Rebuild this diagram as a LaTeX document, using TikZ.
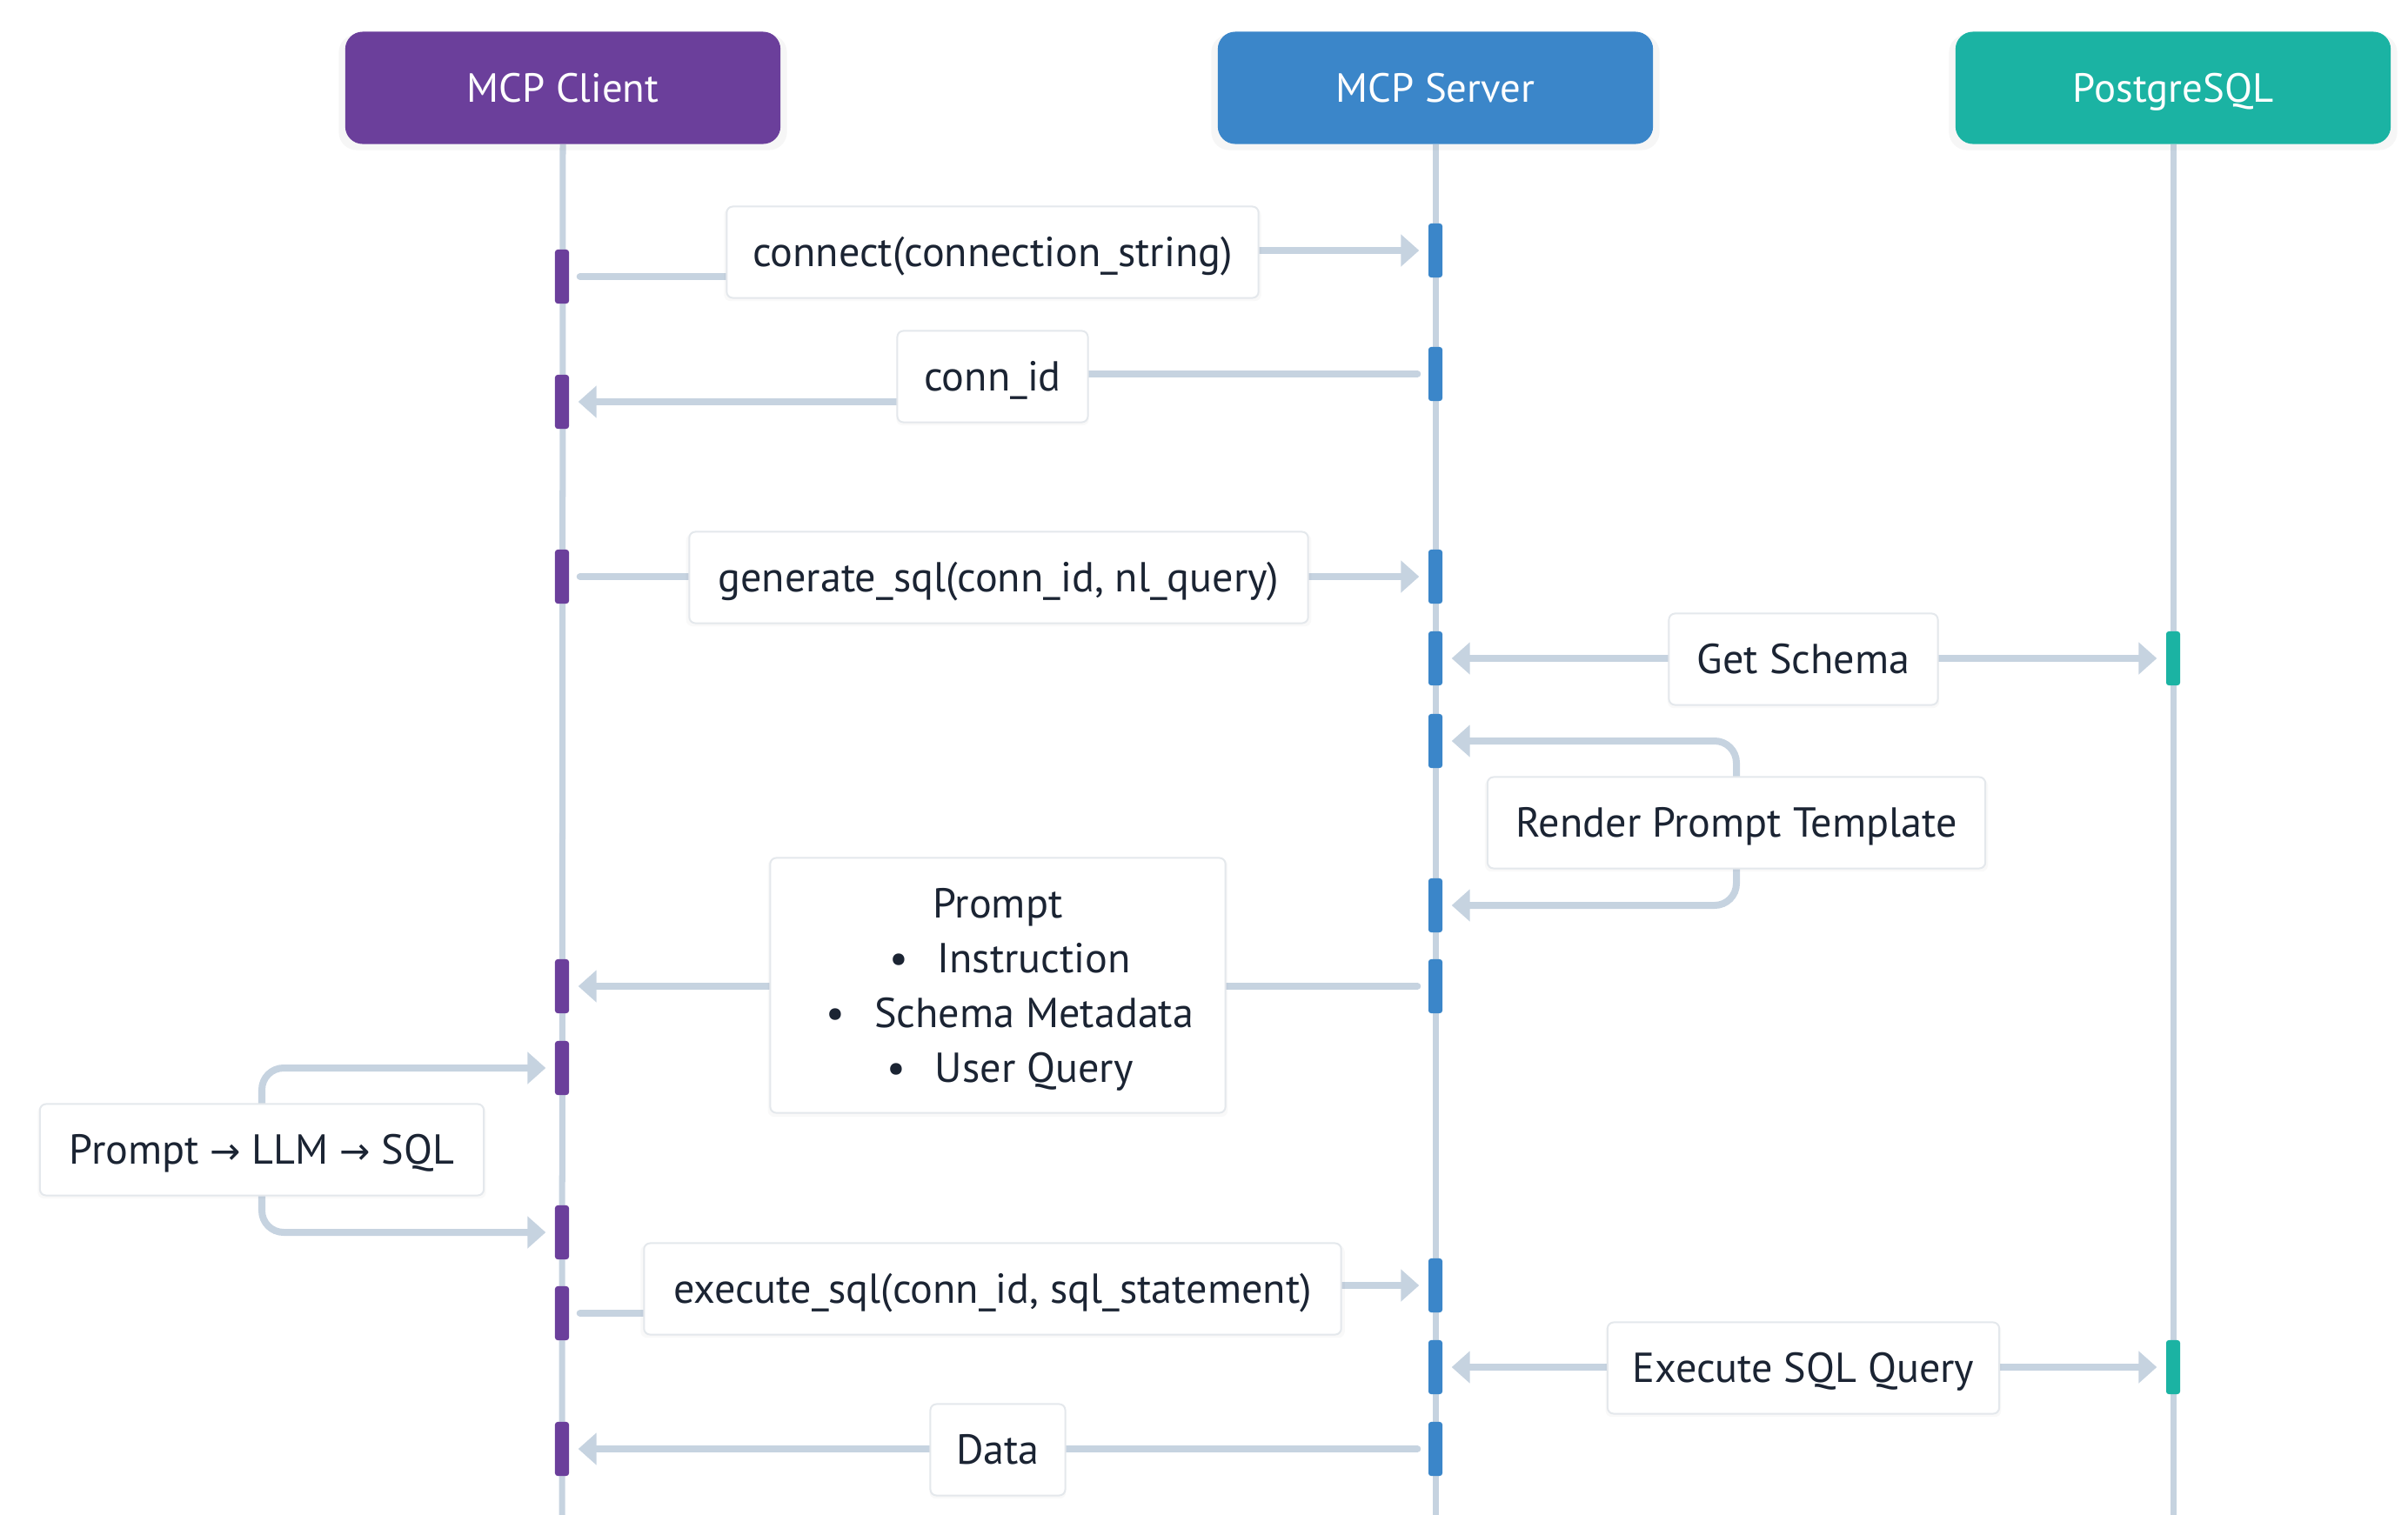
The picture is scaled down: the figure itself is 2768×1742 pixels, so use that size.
\documentclass[tikz,border=0pt]{standalone}
\usepackage{fontspec}
\setmainfont{PT Sans}
\newfontfamily\arrowfont{DejaVu Sans}
\usetikzlibrary{arrows.meta,shadows}
\definecolor{clientc}{HTML}{6B3F9B}
\definecolor{serverc}{HTML}{3B86C9}
\definecolor{pgc}{HTML}{1BB3A3}
\definecolor{linec}{HTML}{C6D3E0}
\definecolor{txtc}{HTML}{1B2433}
\definecolor{boxborder}{HTML}{E4E8EC}
\pgfdeclarelayer{bg}
\pgfsetlayers{bg,main}
\tikzset{
  header/.style={rounded corners=0.2cm, minimum width=5.0cm, minimum height=1.29cm,
    text=white, font=\fontsize{13.3}{16}\selectfont, inner sep=0pt,
    text height=9.3pt, text depth=0pt,
    drop shadow={opacity=0.07, shadow xshift=0cm, shadow yshift=-0.05cm, shadow scale=1.03}},
  lifeline/.style={draw=linec, line width=0.07cm},
  actbar/.style={minimum width=0.16cm, minimum height=0.62cm, inner sep=0pt, rounded corners=0.03cm},
  lbl/.style={fill=white, draw=boxborder, line width=0.02cm, rounded corners=0.07cm,
    minimum height=1.05cm, inner sep=0pt, text=txtc, font=\fontsize{13.7}{17.9}\selectfont,
    drop shadow={opacity=0.05, shadow xshift=0cm, shadow yshift=-0.03cm, shadow scale=1.01}},
  oneline/.style={text height=9.6pt, text depth=0pt},
  tipshape/.tip={Triangle[length=0.21cm,width=0.36cm]},
  msg/.style={draw=linec, line width=0.08cm, line cap=round, -tipshape,
    shorten >=0.1cm, shorten <=0.12cm},
  msgboth/.style={draw=linec, line width=0.08cm, line cap=round, tipshape-tipshape,
    shorten >=0.1cm, shorten <=0.1cm},
  loopmsg/.style={msgboth, rounded corners=0.25cm}
}
\newcommand{\bulletline}[1]{\hspace*{0.28cm}\textbullet\hspace{0.7em}#1}
\begin{document}
\begin{tikzpicture}[x=0.01cm,y=-0.01cm]
\useasboundingbox (0,0) rectangle (2768,1742);

% headers
\node[header, fill=clientc] (client) at (647,101) {MCP Client};
\node[header, fill=serverc] (server) at (1650,101) {MCP Server};
\node[header, fill=pgc] (pg) at (2498,101) {PostgreSQL};

\coordinate (clientend) at (646,1742);
\coordinate (serverend) at (1650,1742);
\coordinate (pgend) at (2498,1742);

% activation bars
\node[actbar, fill=clientc] (cb1) at (646,318) {};
\node[actbar, fill=clientc] (cb2) at (646,462) {};
\node[actbar, fill=clientc] (cb3) at (646,663) {};
\node[actbar, fill=clientc] (cb4) at (646,1134) {};
\node[actbar, fill=clientc] (cb5) at (646,1228) {};
\node[actbar, fill=clientc] (cb6) at (646,1417) {};
\node[actbar, fill=clientc] (cb7) at (646,1510) {};
\node[actbar, fill=clientc] (cb8) at (646,1666) {};

\node[actbar, fill=serverc] (sb1) at (1650,288) {};
\node[actbar, fill=serverc] (sb2) at (1650,430) {};
\node[actbar, fill=serverc] (sb3) at (1650,663) {};
\node[actbar, fill=serverc] (sb4) at (1650,757) {};
\node[actbar, fill=serverc] (sb5) at (1650,852) {};
\node[actbar, fill=serverc] (sb6) at (1650,1041) {};
\node[actbar, fill=serverc] (sb7) at (1650,1134) {};
\node[actbar, fill=serverc] (sb8) at (1650,1478) {};
\node[actbar, fill=serverc] (sb9) at (1650,1572) {};
\node[actbar, fill=serverc] (sb10) at (1650,1666) {};

\node[actbar, fill=pgc] (pb1) at (2498,757) {};
\node[actbar, fill=pgc] (pb2) at (2498,1572) {};

% labels
\node[lbl, oneline, minimum width=6.11cm] (l1) at (1141,290) {connect(connection\_string)};
\node[lbl, oneline, minimum width=2.19cm] (l2) at (1141,433) {conn\_id};
\node[lbl, oneline, minimum width=7.11cm] (l3) at (1148,664) {generate\_sql(conn\_id, nl\_query)};
\node[lbl, oneline, minimum width=3.09cm] (l4) at (2073,758) {Get Schema};
\node[lbl, oneline, minimum width=5.72cm] (l5) at (1996,946) {Render Prompt Template};
\node[lbl, minimum width=5.23cm, minimum height=2.93cm, align=center, text depth=0pt] (l6) at (1147,1133)
  {Prompt\\ \bulletline{Instruction}\\ \bulletline{Schema Metadata}\\ \bulletline{User Query}};
\node[lbl, oneline, minimum width=5.10cm] (l7) at (301,1322) {Prompt {\arrowfont\fontsize{12}{14}\selectfont →} LLM {\arrowfont\fontsize{12}{14}\selectfont →} SQL};
\node[lbl, oneline, minimum width=8.01cm] (l8) at (1141,1482) {execute\_sql(conn\_id, sql\_statement)};
\node[lbl, oneline, minimum width=4.50cm] (l9) at (2073,1573) {Execute SQL Query};
\node[lbl, oneline, minimum width=1.55cm] (l10) at (1147,1667) {Data};

\begin{pgfonlayer}{bg}
  \draw[lifeline] (client.south) -- (clientend);
  \draw[lifeline] (server.south) -- (serverend);
  \draw[lifeline] (pg.south) -- (pgend);

  \draw[msg] (cb1.east) -| (l1.center) |- (sb1.west);
  \draw[msg] (sb2.west) -| (l2.center) |- (cb2.east);
  \draw[msg] (cb3.east) -- (sb3.west);
  \draw[msgboth] (sb4.east) -- (pb1.west);
  \draw[loopmsg] (sb5.east) -| (l5.center) |- (sb6.east);
  \draw[msg] (sb7.west) -- (cb4.east);
  \draw[loopmsg] (cb5.west) -| (l7.center) |- (cb6.west);
  \draw[msg] (cb7.east) -| (l8.center) |- (sb8.west);
  \draw[msgboth] (sb9.east) -- (pb2.west);
  \draw[msg] (sb10.west) -- (cb8.east);
\end{pgfonlayer}
\end{tikzpicture}
\end{document}
